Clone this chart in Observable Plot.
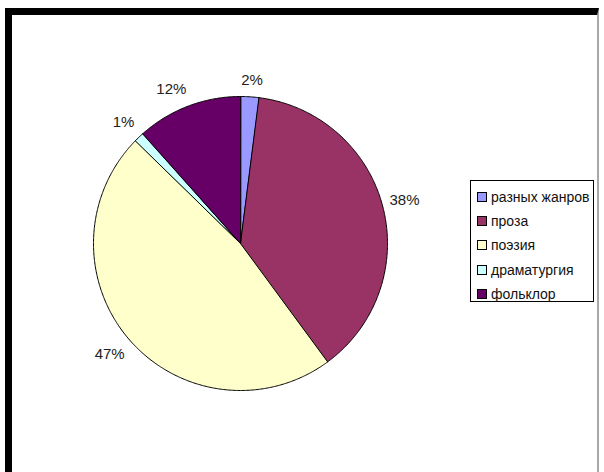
<!DOCTYPE html>
<html><head><meta charset="utf-8">
<script src="https://cdn.jsdelivr.net/npm/d3@7"></script>
<script src="https://cdn.jsdelivr.net/npm/@observablehq/plot@0.6"></script>
<style>
body{margin:0;background:#fff;width:604px;height:472px;overflow:hidden;position:relative;font-family:"Liberation Sans",Arial,sans-serif;}
#chart{position:absolute;left:0;top:0;}
#frame{position:absolute;left:5px;top:8px;width:585px;height:480px;border-top:7px solid #000;border-left:7px solid #000;border-right:2px solid #a8a8a8;z-index:2;pointer-events:none;}
#legend{position:absolute;left:470px;top:180px;width:122px;height:120px;border:1px solid #000;background:#fff;z-index:3;font-size:14px;color:#111;}
.row{position:absolute;left:6px;height:16px;line-height:16px;white-space:nowrap;}
.sw{display:inline-block;width:8px;height:8px;border:1px solid #000;margin-right:4px;vertical-align:0px;}
</style></head><body>
<div id="chart"></div>
<div id="frame"></div>
<div id="legend"></div>
<script>
const categories = ["разных жанров", "проза", "поэзия", "драматургия", "фольклор"];
const values = [2.0, 37.9, 47.4, 1.1, 11.6];
const colors = ["#9999FF", "#993366", "#FFFFCC", "#CCFFFF", "#660066"];

const total = d3.sum(values);
let acc = 0;
const slices = categories.map((c, i) => {
  const a0 = acc / total * 2 * Math.PI;
  acc += values[i];
  const a1 = acc / total * 2 * Math.PI;
  return {category: c, value: values[i], color: colors[i], a0, a1};
});

// polygon points in unit coordinates (angle clockwise from top)
function slicePoints(s) {
  const pts = [{x: 0, y: 0}];
  const n = Math.max(2, Math.ceil((s.a1 - s.a0) / (Math.PI / 360)));
  for (let k = 0; k <= n; k++) {
    const a = s.a0 + (s.a1 - s.a0) * k / n;
    pts.push({x: Math.sin(a), y: Math.cos(a)});
  }
  return pts;
}

// label placement: anchor point just outside the pie, box pushed outward
const pxPerUnit = 147;
const labelR = 155 / pxPerUnit;
const clamp = v => Math.max(-1, Math.min(1, v));
const labels = slices.map(s => {
  const m = (s.a0 + s.a1) / 2;
  const text = Math.round(s.value / total * 100) + "%";
  const w = text.length * 8.3 + 3, h = 18;
  const sx = clamp(Math.sin(m) * 3), sy = clamp(Math.cos(m) * 2);
  return {
    x: labelR * Math.sin(m) + (w / 2) * sx / pxPerUnit,
    y: labelR * Math.cos(m) + (h / 2) * sy / pxPerUnit,
    text
  };
});

const plot = Plot.plot({
  width: 604,
  height: 472,
  margin: 0,
  style: {background: "transparent"},
  x: {domain: [-1, 1], range: [93, 387], axis: null},
  y: {domain: [-1, 1], range: [390, 96], axis: null},
  marks: [
    ...slices.map(s => Plot.line(slicePoints(s), {
      x: "x", y: "y", curve: "linear-closed",
      fill: s.color, stroke: "#000", strokeWidth: 1
    })),
    Plot.text(labels, {
      x: "x", y: "y", text: "text",
      fontSize: 15, fill: "#222", fontFamily: "Liberation Sans, Arial, sans-serif"
    })
  ]
});
document.getElementById("chart").appendChild(plot);

const legend = document.getElementById("legend");
categories.forEach((c, i) => {
  const row = document.createElement("div");
  row.className = "row";
  row.style.top = (i * 24.2 + 8) + "px";
  const sw = document.createElement("span");
  sw.className = "sw";
  sw.style.background = colors[i];
  row.appendChild(sw);
  row.appendChild(document.createTextNode(c));
  legend.appendChild(row);
});
</script>
</body></html>
